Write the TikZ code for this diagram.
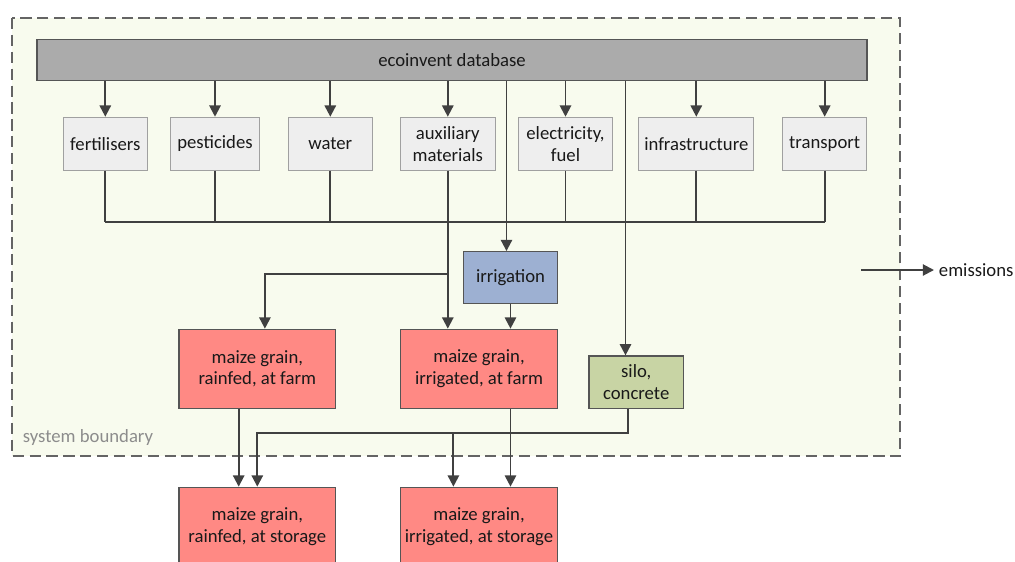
\documentclass[tikz,border=0pt]{standalone}
\usepackage{fontspec}
\setmainfont{Carlito}
\usepackage{tikz}
\usetikzlibrary{arrows.meta, positioning}

\definecolor{boundfill}{RGB}{248,251,238}
\definecolor{bounddraw}{RGB}{100,100,100}
\definecolor{boundtext}{RGB}{140,140,140}
\definecolor{dbfill}{RGB}{171,171,171}
\definecolor{darkdraw}{RGB}{85,85,85}
\definecolor{inputfill}{RGB}{238,238,238}
\definecolor{inputdraw}{RGB}{160,160,160}
\definecolor{maizefill}{RGB}{255,137,132}
\definecolor{irrfill}{RGB}{157,176,210}
\definecolor{silofill}{RGB}{200,212,164}
\definecolor{linecol}{RGB}{64,64,64}
\definecolor{textcol}{RGB}{25,25,25}

\begin{document}
\begin{tikzpicture}[x=0.025cm, y=-0.025cm, font=\fontsize{13.3}{15.5}\selectfont,
	inbox/.style={draw=inputdraw, fill=inputfill, line width=0.8pt, minimum height=1.32cm, inner sep=2pt, align=center, text=textcol},
	dbbox/.style={draw=darkdraw, fill=dbfill, line width=0.9pt, minimum height=1.04cm, text=textcol},
	maize/.style={draw=darkdraw, fill=maizefill, line width=0.9pt, minimum width=3.92cm, minimum height=1.975cm, align=center, text=textcol},
	irrbox/.style={draw=darkdraw, fill=irrfill, line width=0.9pt, minimum width=2.36cm, minimum height=1.29cm, text=textcol},
	silobox/.style={draw=darkdraw, fill=silofill, line width=0.9pt, minimum width=2.36cm, minimum height=1.31cm, align=center, text=textcol},
	line/.style={draw=linecol, line width=1.4pt},
	arr/.style={line, -{Triangle[width=8pt, length=8pt]}}]
	\useasboundingbox (0,0) rectangle (1015,561);
	
	% system boundary
	\draw[draw=bounddraw, fill=boundfill, line width=1.3pt, dash pattern=on 8pt off 4pt] (12,18) rectangle (900,456);
	\node[anchor=west, text=boundtext] (sysb) at (18,438) {system boundary};
	
	\node[dbbox, minimum width=20.74cm] (db) at (452,60) {ecoinvent database};
	
	\node[inbox, minimum width=2.1cm] (fert) at (105.3,143.7) {fertilisers};
	\node[inbox, minimum width=2.235cm] (pest) at (215,143.7) {pesticides};
	\node[inbox, minimum width=2.1cm] (water) at (330.3,143.7) {water};
	\node[inbox, minimum width=2.375cm] (aux) at (447.8,143.7) {auxiliary\\materials};
	\node[inbox, minimum width=2.36cm] (elec) at (565.5,143.7) {electricity,\\fuel};
	\node[inbox, minimum width=2.88cm] (infra) at (696.3,143.7) {infrastructure};
	\node[inbox, minimum width=2.1cm] (trans) at (824.7,143.7) {transport};
	
	\node[irrbox] (irr) at (510.5,277.5) {irrigation};
	\node[maize] (farmR) at (257.3,368.8) {maize grain,\\rainfed, at farm};
	\node[maize] (farmI) at (479,368.8) {maize grain,\\irrigated, at farm};
	\node[silobox] (silo) at (636.2,382.2) {silo,\\concrete};
	\node[maize] (storeR) at (257.3,526.8) {maize grain,\\rainfed, at storage};
	\node[maize] (storeI) at (479,526.8) {maize grain,\\irrigated, at storage};
	
	\coordinate (bus) at (0,222);
	\coordinate (split) at (0,274);
	\coordinate (feed1) at (506.5,0);
	\coordinate (feed2) at (625.5,0);
	\coordinate (silobus) at (628,433.3);
	\coordinate (emstart) at (861,270);
	\node[anchor=west, text=textcol] (emis) at (934,270) {emissions};
	
	% inputs from the database
	\foreach \n in {fert, pest, water, aux, elec, infra, trans}
		\draw[arr] (\n.north |- db.south) -- (\n.north);
	\foreach \n in {fert, pest, water, elec, infra, trans}
		\draw[line] (\n.south) -- (\n.south |- bus);
	\draw[line] (fert.south |- bus) -- (trans.south |- bus);
	
	% to the farms
	\draw[arr] (aux.south) -- (aux.south |- farmI.north);
	\draw[arr] (aux.south |- split) -| ([xshift=0.19cm]farmR.north);
	\draw[arr] (feed1 |- db.south) -- (feed1 |- irr.north);
	\draw[arr] (irr.south) -- (irr.south |- farmI.north);
	\draw[arr] (feed2 |- db.south) -- (feed2 |- silo.north);
	
	% to the storage
	\draw[arr] ([xshift=-0.465cm]farmR.south) -- ([xshift=-0.465cm]storeR.north);
	\draw[arr] (farmI.south -| irr.south) -- (storeI.north -| irr.south);
	\draw[arr] (silo.south -| silobus) -- (silobus) -| (storeR.north);
	\draw[arr] ([xshift=-0.64cm]farmI.south |- silobus) -- ([xshift=-0.64cm]storeI.north);
	
	\draw[arr] (emstart) -- (emstart -| emis.west);
\end{tikzpicture}
\end{document}
